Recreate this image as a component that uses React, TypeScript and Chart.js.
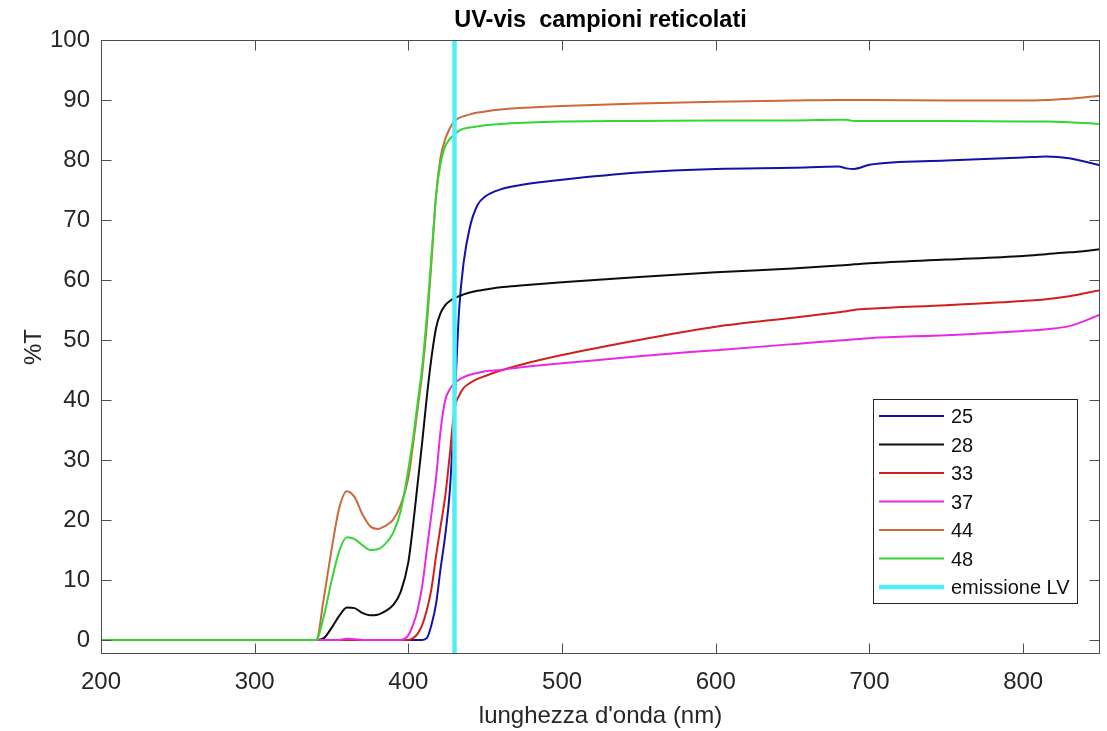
import { useEffect, useRef } from 'react';
import { Chart, registerables } from 'chart.js';

Chart.register(...registerables);

const FONT = "'Liberation Sans', Arial, Helvetica, sans-serif";

const wavelength = [200, 340, 345, 350, 355, 360, 365, 370, 375, 380, 385, 390, 395, 400, 403, 406, 409, 412, 415, 418, 421, 424, 427, 430, 433, 436, 440, 445, 450, 460, 475, 500, 550, 600, 650, 680, 685, 690, 700, 750, 800, 815, 830, 850];

const t25 = [0, 0, 0, 0, 0, 0, 0, 0, 0, 0, 0, 0, 0, 0, 0, 0, 0, 0.3, 2.5, 6, 12, 17.5, 25, 39, 55, 63, 68.8, 72.5, 73.9, 75.1, 75.9, 76.7, 77.9, 78.5, 78.7, 78.9, 78.6, 78.5, 79.2, 79.9, 80.4, 80.6, 80.3, 79.1];
const t28 = [0, 0, 0.3, 2, 4, 5.4, 5.3, 4.5, 4.1, 4.2, 4.8, 5.8, 8, 13, 19, 26, 33, 40.5, 47, 52, 54.5, 55.8, 56.5, 57, 57.3, 57.6, 57.9, 58.2, 58.4, 58.8, 59.1, 59.6, 60.5, 61.3, 61.9, 62.4, 62.5, 62.6, 62.8, 63.4, 64.0, 64.3, 64.6, 65.1];
const t33 = [0, 0, 0, 0, 0, 0, 0, 0, 0, 0, 0, 0, 0, 0, 0.3, 1, 2.5, 5, 8.5, 14, 19, 24, 31, 38.5, 40.7, 42, 42.8, 43.5, 44, 44.9, 46, 47.5, 50, 52.2, 53.7, 54.6, 54.8, 55, 55.2, 55.8, 56.5, 56.8, 57.3, 58.3];
const t37 = [0, 0, 0, 0, 0, 0.2, 0.1, 0, 0, 0, 0, 0, 0, 0.8, 2.5, 5, 9, 15, 21, 27, 35, 40, 41.8, 42.8, 43.4, 43.8, 44.2, 44.5, 44.8, 45.0, 45.5, 46.1, 47.3, 48.3, 49.3, 49.9, 50, 50.1, 50.3, 50.8, 51.5, 51.8, 52.3, 54.2];
const t44 = [0, 0, 7, 15, 22, 24.8, 23.8, 21, 19, 18.5, 19, 20, 22.5, 27, 32.5, 38.5, 44.5, 52.5, 63, 74, 80.5, 83.5, 85.3, 86.5, 87, 87.3, 87.6, 87.9, 88.1, 88.4, 88.7, 89.0, 89.4, 89.7, 89.9, 90.0, 90.0, 90.0, 90.0, 89.9, 89.9, 90.0, 90.2, 90.7];
const t48 = [0, 0, 4, 9.8, 14.8, 17.1, 16.8, 15.8, 15.0, 15.1, 16.0, 17.8, 21.5, 28.5, 33.5, 39.5, 45.5, 54, 64, 74, 79.5, 82.3, 83.5, 84.3, 84.9, 85.2, 85.4, 85.6, 85.8, 86.0, 86.2, 86.4, 86.5, 86.6, 86.6, 86.7, 86.7, 86.5, 86.5, 86.5, 86.4, 86.4, 86.3, 86.0];

const lvWavelength = [430, 430];
const lvT = [-5, 105];

const seriesLabels = ['25', '28', '33', '37', '44', '48'];
const seriesValues = [t25, t28, t33, t37, t44, t48];
const seriesColors = ['#1212aa', '#0d0d0d', '#d11f1f', '#e62ae6', '#c96a3a', '#33d633'];
const lvLabel = 'emissione LV';
const lvColor = '#52eef7';

const titleText = 'UV-vis  campioni reticolati';
const xTitle = "lunghezza d'onda (nm)";
const yTitle = '%T';

const boxPlugin = {
  id: 'matlabBox',
  afterDatasetsDraw(chart: any) {
    const { ctx, chartArea: a, scales } = chart;
    ctx.save();
    ctx.strokeStyle = '#4d4d4d';
    ctx.lineWidth = 1;
    const L = Math.round(a.left) + 0.5;
    const R = Math.round(a.right) - 0.5;
    const T = Math.round(a.top) + 0.5;
    const B = Math.round(a.bottom) - 0.5;
    ctx.strokeRect(L, T, R - L, B - T);
    const len = 10;
    ctx.beginPath();
    scales.x.ticks.forEach((t: any) => {
      const px = Math.round(scales.x.getPixelForValue(t.value)) + 0.5;
      ctx.moveTo(px, B);
      ctx.lineTo(px, B - len);
      ctx.moveTo(px, T);
      ctx.lineTo(px, T + len);
    });
    scales.y.ticks.forEach((t: any) => {
      const py = Math.round(scales.y.getPixelForValue(t.value)) + 0.5;
      ctx.moveTo(L, py);
      ctx.lineTo(L + len, py);
      ctx.moveTo(R, py);
      ctx.lineTo(R - len, py);
    });
    ctx.stroke();
    ctx.restore();
  },
};

const legendPlugin = {
  id: 'insideLegend',
  afterDraw(chart: any) {
    const { ctx, chartArea: a } = chart;
    const x0 = Math.round(a.right) - 227;
    const y0 = Math.round(a.top) + 359;
    const w = 204;
    const h = 204;
    ctx.save();
    ctx.fillStyle = '#ffffff';
    ctx.fillRect(x0, y0, w, h);
    ctx.strokeStyle = '#262626';
    ctx.lineWidth = 1;
    ctx.strokeRect(x0 + 0.5, y0 + 0.5, w, h);
    ctx.font = `20px ${FONT}`;
    ctx.textBaseline = 'middle';
    ctx.textAlign = 'left';
    chart.data.datasets.forEach((ds: any, i: number) => {
      const y = y0 + 17 + i * 28.5;
      ctx.strokeStyle = ds.borderColor;
      ctx.lineWidth = ds.borderWidth;
      ctx.beginPath();
      ctx.moveTo(x0 + 6, y);
      ctx.lineTo(x0 + 71, y);
      ctx.stroke();
      ctx.fillStyle = '#111111';
      ctx.fillText(ds.label, x0 + 78, y + 1.5);
    });
    ctx.restore();
  },
};

export default function App() {
  const canvasRef = useRef<HTMLCanvasElement | null>(null);

  useEffect(() => {
    if (!canvasRef.current) return;
    const datasets: any[] = seriesLabels.map((label, i) => ({
      label,
      data: wavelength.map((x, j) => ({ x, y: seriesValues[i][j] })),
      borderColor: seriesColors[i],
      backgroundColor: seriesColors[i],
      borderWidth: 2,
      pointRadius: 0,
      showLine: true,
      fill: false,
      cubicInterpolationMode: 'monotone',
      order: 10 - i,
    }));
    datasets.push({
      label: lvLabel,
      data: lvWavelength.map((x, j) => ({ x, y: lvT[j] })),
      borderColor: lvColor,
      backgroundColor: lvColor,
      borderWidth: 4.5,
      pointRadius: 0,
      showLine: true,
      fill: false,
      tension: 0,
      clip: 0,
      order: 0,
    });

    const tickFont = { family: FONT, size: 24 };
    const chart = new Chart(canvasRef.current, {
      type: 'scatter',
      data: { datasets },
      options: {
        responsive: false,
        animation: false,
        events: [],
        layout: { padding: { left: 0, right: 7, top: 0, bottom: 0 } },
        plugins: {
          legend: { display: false },
          tooltip: { enabled: false },
          title: {
            display: true,
            fullSize: false,
            text: titleText,
            color: '#000000',
            font: { family: FONT, size: 23.5, weight: 'bold' },
            padding: { top: 6, bottom: 5.8 },
          },
        },
        scales: {
          x: {
            type: 'linear',
            min: 200,
            max: 850,
            afterFit: (s: any) => {
              s.height = 77;
            },
            grid: { display: false, drawTicks: false },
            border: { display: false },
            ticks: {
              stepSize: 100,
              includeBounds: false,
              padding: 14,
              color: '#262626',
              font: tickFont,
              maxRotation: 0,
            },
            title: {
              display: true,
              text: xTitle,
              color: '#262626',
              font: tickFont,
              padding: { top: 0, bottom: 0 },
            },
          },
          y: {
            type: 'linear',
            min: -2.35,
            max: 100,
            afterFit: (s: any) => {
              s.width = 101;
            },
            grid: { display: false, drawTicks: false },
            border: { display: false },
            ticks: {
              stepSize: 10,
              includeBounds: false,
              padding: 11,
              color: '#262626',
              font: tickFont,
            },
            title: {
              display: true,
              text: yTitle,
              color: '#262626',
              font: tickFont,
              padding: { top: 20, bottom: 0 },
            },
          },
        },
      } as any,
      plugins: [boxPlugin, legendPlugin],
    });
    return () => chart.destroy();
  }, []);

  return (
    <div style={{ position: 'fixed', left: 0, top: 0, width: 1107, height: 731, background: '#ffffff' }}>
      <canvas ref={canvasRef} width={1107} height={731} style={{ display: 'block' }} />
    </div>
  );
}
